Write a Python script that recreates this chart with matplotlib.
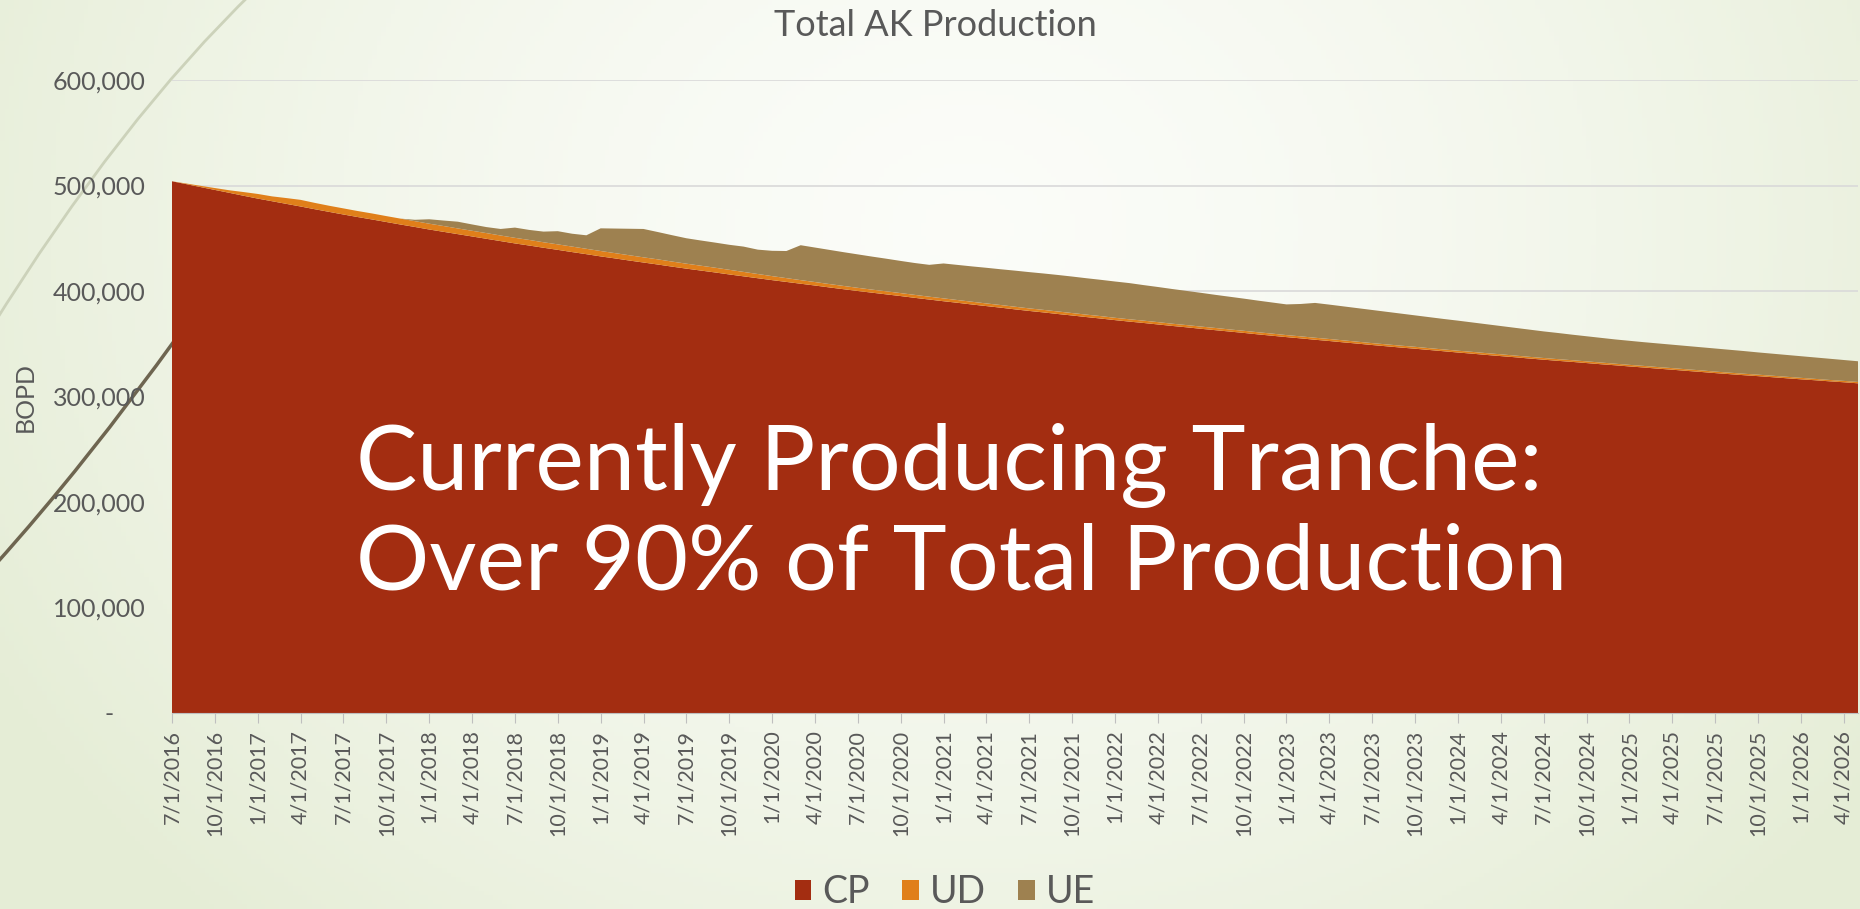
import matplotlib
matplotlib.use("Agg")
import matplotlib.pyplot as plt
import numpy as np
import pandas as pd
from matplotlib.patches import Patch, PathPatch
from matplotlib.path import Path
from matplotlib.ticker import FuncFormatter

plt.rcParams['font.family'] = ['Lato', 'DejaVu Sans']

# --- Data (thousand barrels of oil per day, monthly from 7/1/2016) ---
months = pd.date_range('2016-07-01', periods=119, freq='MS')

cp = [504.0, 501.3, 498.5, 495.8, 493.1, 490.3,
      487.6, 485.1, 482.6, 480.1, 477.5, 475.0,
      472.5, 470.1, 467.8, 465.4, 463.0, 460.7,
      458.3, 456.1, 453.9, 451.7, 449.5, 447.3,
      445.1, 443.1, 441.0, 439.0, 436.9, 434.9,
      432.8, 430.9, 428.9, 427.0, 425.1, 423.1,
      421.2, 419.4, 417.6, 415.7, 413.9, 412.1,
      410.3, 408.6, 406.9, 405.2, 403.4, 401.7,
      400.0, 398.4, 396.8, 395.2, 393.5, 391.9,
      390.3, 388.8, 387.2, 385.7, 384.2, 382.6,
      381.1, 379.7, 378.2, 376.8, 375.3, 373.9,
      372.4, 371.0, 369.7, 368.3, 366.9, 365.6,
      364.2, 362.9, 361.6, 360.3, 358.9, 357.6,
      356.3, 355.1, 353.8, 352.6, 351.3, 350.1,
      348.8, 347.6, 346.4, 345.3, 344.1, 342.9,
      341.7, 340.6, 339.4, 338.3, 337.2, 336.0,
      334.9, 333.8, 332.8, 331.7, 330.6, 329.6,
      328.5, 327.5, 326.4, 325.4, 324.3, 323.3,
      322.2, 321.2, 320.2, 319.3, 318.3, 317.3,
      316.3, 315.4, 314.4, 313.5, 312.5]

ud = [0.0, 0.6, 1.2, 1.8, 2.4, 3.5, 4.4, 4.6, 5.5, 6.3, 6.0, 5.8,
      5.8, 5.7, 5.7, 5.6, 5.6, 5.5, 5.5, 5.5, 5.4, 5.4, 5.4, 5.3,
      5.3, 5.3, 5.2, 5.2, 5.2, 5.1, 5.1, 5.0, 5.0, 4.9, 4.9, 4.8,
      4.7, 4.6, 4.5, 4.4, 4.2, 4.0, 3.8, 3.6, 3.4, 3.3, 3.2, 3.1,
      3.0, 2.9, 2.9, 2.8, 2.8, 2.7, 2.7, 2.6, 2.6, 2.5, 2.5, 2.5,
      2.4, 2.4, 2.4, 2.3, 2.3, 2.3, 2.2, 2.2, 2.2, 2.2, 2.1, 2.1,
      2.1, 2.1, 2.0, 2.0, 2.0, 2.0, 1.9, 1.9, 1.9, 1.9, 1.9, 1.8,
      1.8, 1.8, 1.8, 1.8, 1.7, 1.7, 1.7, 1.7, 1.7, 1.7, 1.6, 1.6,
      1.6, 1.6, 1.6, 1.6, 1.6, 1.5, 1.5, 1.5, 1.5, 1.5, 1.5, 1.5,
      1.4, 1.4, 1.4, 1.4, 1.4, 1.4, 1.4, 1.3, 1.3, 1.3, 1.3]

ue = [0.0] * 17 + [
      1.3, 4.2, 5.2, 6.4, 6.0, 5.7, 6.2, 9.7, 9.5, 10.1, 12.5, 12.2, 12.8,
      21.5, 23.3, 25.1, 26.9, 25.9, 25.0, 24.1, 23.9, 23.8, 23.7, 24.0, 23.1, 24.0, 25.7,
      33.1, 32.7, 32.4, 32.0, 31.7, 31.3, 30.9, 30.5, 30.2, 30.2,
      33.1, 33.3, 33.5, 33.8, 33.9, 34.2, 34.4, 34.5, 34.6, 34.6, 34.5, 34.4, 34.4, 34.3,
      33.7, 33.3, 32.9, 32.4, 32.0, 31.4, 31.0, 30.5, 30.0, 29.5, 29.1,
      30.7, 33.0, 32.6, 32.2, 31.8, 31.4, 30.9, 30.4, 29.8, 29.4, 28.9, 28.5,
      27.9, 27.4, 26.8, 26.3, 25.8, 25.2, 24.8, 24.2, 23.8, 23.4, 23.0,
      22.8, 22.5, 22.4, 22.2, 22.1, 21.9, 21.9, 21.7, 21.5, 21.1, 20.9, 20.7,
      20.5, 20.3, 20.1, 19.8, 19.6]

series_names = ['CP', 'UD', 'UE']
colors = ['#A32D11', '#E07F1A', '#9E8150']

W, H = 1860, 909
fig = plt.figure(figsize=(W / 100, H / 100), dpi=100)

# background: pale green slide with a bright centre
bg = fig.add_axes([0, 0, 1, 1], zorder=-10)
gx, gy = np.meshgrid(np.linspace(0, 1, 400), np.linspace(0, 1, 200))
dist = np.sqrt(((gx - 0.52) / 0.6) ** 2 + ((gy - 0.25) / 1.05) ** 2)
t = np.clip(dist, 0, 1) ** 1.5
white = np.array([0.985, 0.99, 0.975])
green = np.array([0.9, 0.93, 0.84])
img = white[None, None, :] * (1 - t[..., None]) + green[None, None, :] * t[..., None]
bg.imshow(img, extent=[0, W, H, 0], aspect='auto')
bg.set_xlim(0, W)
bg.set_ylim(H, 0)
bg.axis('off')

# decorative slide arcs (theme ornaments)
arc1 = Path([(255, -10), (120, 120), (-10, 330)], [Path.MOVETO, Path.CURVE3, Path.CURVE3])
bg.add_patch(PathPatch(arc1, fill=False, edgecolor='#CCD2BA', lw=2.0))
arc2 = Path([(-5, 565), (85, 465), (180, 333)], [Path.MOVETO, Path.CURVE3, Path.CURVE3])
bg.add_patch(PathPatch(arc2, fill=False, edgecolor='#6E6550', lw=2.5))

# main chart
ax = fig.add_axes([172 / W, 1 - 713 / H, (1858 - 172) / W, (713 - 80) / H])
ax.patch.set_alpha(0)
x = np.arange(len(months))
vals = [np.array(s) * 1000 for s in (cp, ud, ue)]
ax.stackplot(x, *vals, colors=colors, labels=series_names, zorder=3)

ax.set_xlim(0, len(months) - 1)
ax.set_ylim(0, 600000)
ax.set_yticks(np.arange(0, 600001, 100000))
ax.yaxis.set_major_formatter(FuncFormatter(lambda v, p: '-     ' if v == 0 else f'{int(v):,}'))
ax.grid(axis='y', color='#D9D9D9', lw=1.2, zorder=0)
ax.set_axisbelow(True)

tick_idx = x[::3]
ax.set_xticks(tick_idx)
ax.set_xticklabels([f'{d.month}/1/{d.year}' for d in months[::3]], rotation=90)

for s in ['top', 'right', 'left']:
    ax.spines[s].set_visible(False)
ax.spines['bottom'].set_color('#BFBFBF')
ax.spines['bottom'].set_zorder(4)
ax.tick_params(axis='x', length=7, color='#BFBFBF', labelsize=15.5, labelcolor='#595959', pad=5)
ax.tick_params(axis='y', length=0, labelsize=18, labelcolor='#595959', pad=19)

ax.set_ylabel('BOPD', fontsize=18, color='#595959')
ax.yaxis.set_label_coords(-0.080, 0.5)

fig.text(935 / W, 1 - 25 / H, 'Total AK Production', ha='center', va='center',
         fontsize=26, color='#595959')

# overlay caption
fig.text(356 / W, 1 - 490 / H, 'Currently Producing Tranche:', ha='left', va='baseline',
         fontsize=66, color='white', zorder=10)
fig.text(356 / W, 1 - 589 / H, 'Over 90% of Total Production', ha='left', va='baseline',
         fontsize=66, color='white', zorder=10)

handles = [Patch(facecolor=c, edgecolor='none') for c in colors]
fig.legend(handles, series_names, loc='center', bbox_to_anchor=(945 / W, 1 - 892 / H),
           ncol=3, frameon=False, fontsize=27, labelcolor='#595959',
           handlelength=0.45, handleheight=0.45, handletextpad=0.3, columnspacing=0.85)

plt.savefig('out.png', dpi=100)
